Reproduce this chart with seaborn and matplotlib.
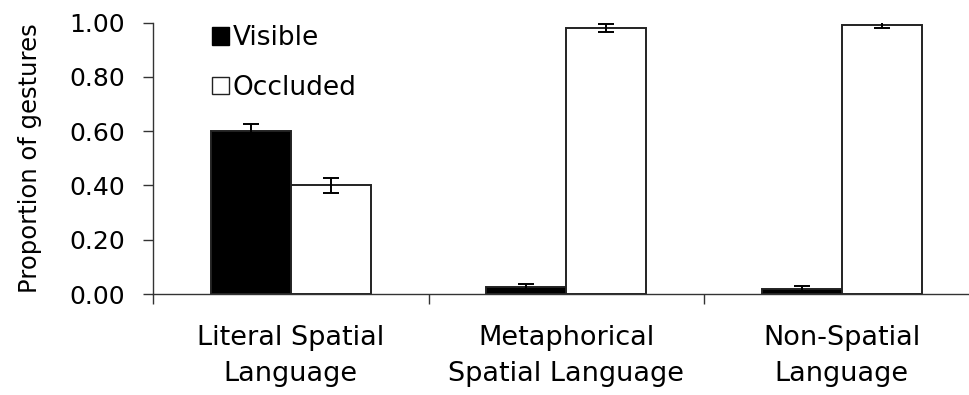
import matplotlib
matplotlib.use("Agg")
import matplotlib.pyplot as plt
from matplotlib.patches import Patch
import seaborn as sns
import pandas as pd
import numpy as np

categories = ["Literal Spatial\nLanguage", "Metaphorical\nSpatial Language", "Non-Spatial\nLanguage"]
conditions = ["Visible", "Occluded"]
visible = [0.60, 0.025, 0.02]
occluded = [0.40, 0.98, 0.99]
visible_err = [0.027, 0.012, 0.011]
occluded_err = [0.028, 0.015, 0.011]
y_ticks = [0.0, 0.2, 0.4, 0.6, 0.8, 1.0]

df = pd.DataFrame({
    "category": categories * 2,
    "condition": [conditions[0]] * 3 + [conditions[1]] * 3,
    "proportion": visible + occluded,
    "err": visible_err + occluded_err,
})

sns.set_theme(style="white")
plt.rcParams["font.family"] = ["DejaVu Sans"]
plt.rcParams["text.color"] = "black"
plt.rcParams["axes.labelcolor"] = "black"
plt.rcParams["xtick.color"] = "black"
plt.rcParams["ytick.color"] = "black"

fig = plt.figure(figsize=(9.69, 3.95), dpi=100)
ax = fig.add_axes([153 / 969, 101 / 395, 826.5 / 969, 271.5 / 395])

sns.barplot(data=df, x="category", y="proportion", hue="condition",
            order=categories, hue_order=conditions,
            palette={"Visible": "black", "Occluded": "white"},
            width=0.58, gap=0, errorbar=None, legend=False, ax=ax,
            saturation=1)

# style the bars and overlay error bars at each bar centre
for patch in ax.patches:
    patch.set_edgecolor("#222222")
    patch.set_linewidth(1.4)

n = len(categories)
for i, (cond, errs) in enumerate([("Visible", visible_err), ("Occluded", occluded_err)]):
    vals = df[df.condition == cond]["proportion"].to_numpy()
    bars = ax.patches[i * n:(i + 1) * n]
    xs = [b.get_x() + b.get_width() / 2 for b in bars]
    ax.errorbar(xs, vals, yerr=errs, fmt="none", ecolor="black",
                elinewidth=1.4, capsize=5.8, capthick=1.4, zorder=5)

ax.set_xlim(-0.5, n - 0.5)
ax.set_ylim(0, 1.0)
ax.set_yticks(y_ticks)
ax.set_yticklabels([f"{t:.2f}" for t in y_ticks], fontsize=18)
ax.set_xticks(range(n))
ax.set_xticklabels(categories, fontsize=19.5, linespacing=1.5)
ax.set_xticks(np.arange(-0.5, n, 1.0), minor=True)
ax.tick_params(axis="x", which="major", length=0, pad=22)
ax.tick_params(axis="x", which="minor", length=7, width=1, color="#333333", direction="out", bottom=True)
ax.tick_params(axis="y", length=7, width=1, color="#333333", direction="out", left=True, pad=13)
ax.set_xlabel("")
ax.set_ylabel("Proportion of gestures", fontsize=17.5, labelpad=20)

for side in ["top", "right"]:
    ax.spines[side].set_visible(False)
for side in ["left", "bottom"]:
    ax.spines[side].set_color("#333333")
    ax.spines[side].set_linewidth(1)

handles = [Patch(facecolor="black", edgecolor="black", linewidth=1),
           Patch(facecolor="white", edgecolor="#222222", linewidth=1)]
fig.legend(handles, conditions, loc="upper left",
           bbox_to_anchor=(212 / 969, 1 - 25 / 395), bbox_transform=fig.transFigure,
           frameon=False, fontsize=19, handlelength=0.65, handleheight=0.65,
           handletextpad=0.12, labelspacing=0.9, borderpad=0, borderaxespad=0)

fig.savefig("out.png", dpi=100)
